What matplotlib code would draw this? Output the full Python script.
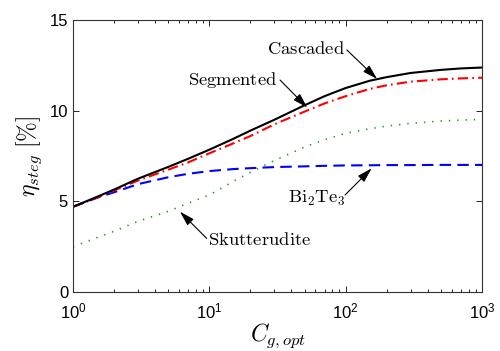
import matplotlib
matplotlib.use("Agg")
import matplotlib.pyplot as plt
import numpy as np

plt.rcParams["font.family"] = ["Liberation Sans", "DejaVu Sans"]

# values
c_opt = [1, 1.5, 2, 3, 5, 7, 10, 15, 20, 30, 50, 70, 100, 150, 200, 300, 500, 700, 1000]
cascaded = [4.7, 5.25, 5.65, 6.25, 6.9, 7.35, 7.85, 8.45, 8.9, 9.5, 10.3, 10.8, 11.25,
            11.65, 11.85, 12.08, 12.25, 12.33, 12.38]
segmented = [4.7, 5.2, 5.6, 6.15, 6.75, 7.15, 7.65, 8.2, 8.6, 9.25, 9.95, 10.4, 10.8,
             11.2, 11.4, 11.6, 11.73, 11.78, 11.82]
bi2te3 = [4.7, 5.2, 5.5, 5.95, 6.33, 6.52, 6.67, 6.78, 6.83, 6.89, 6.93, 6.96, 6.98,
          6.99, 7.0, 7.0, 7.01, 7.01, 7.01]
skutt = [2.5, 3.0, 3.35, 3.9, 4.45, 4.9, 5.35, 6.1, 6.6, 7.25, 8.0, 8.4, 8.75,
         9.0, 9.15, 9.3, 9.43, 9.48, 9.52]

fig = plt.figure(figsize=(5, 3.51), dpi=100)
ax = fig.add_axes([0.146, 0.168, 0.818, 0.775])

ax.plot(c_opt, skutt, color=(0.1, 0.6, 0.1), lw=1.2, linestyle=(0, (0.8, 4.2)))
ax.plot(c_opt, bi2te3, color="b", lw=1.5, linestyle=(0, (5.5, 3)))
ax.plot(c_opt, segmented, color="r", lw=1.5, linestyle=(0, (5, 2, 0.8, 2)))
ax.plot(c_opt, cascaded, color="k", lw=1.5)

ax.set_xscale("log")
ax.set_xlim(1, 1000)
ax.set_ylim(0, 15)
ax.set_yticks([0, 5, 10, 15])
ax.tick_params(which="both", direction="in", top=True, right=True, labelsize=12, width=0.6)
ax.tick_params(which="major", length=4)
ax.tick_params(which="minor", length=2)
ax.tick_params(axis="x", pad=7)
for s in ax.spines.values():
    s.set_linewidth(0.8)
    s.set_color("#333333")

ax.set_xlabel(r"$C_{g,opt}$", fontsize=17, math_fontfamily="cm", labelpad=0)
ax.set_ylabel(r"$\eta_{steg}\ \mathrm{[\%]}$", fontsize=17, math_fontfamily="cm", labelpad=4)

arrow = dict(arrowstyle="-|>,head_length=0.75,head_width=0.22", color="k", lw=0.8,
             mutation_scale=12, shrinkA=0, shrinkB=0)
labels = [
    (r"$\mathrm{Cascaded}$", (51.2, 13.13), (102, 13.35), (170, 11.75)),
    (r"$\mathrm{Segmented}$", (14.9, 11.42), (33, 11.69), (52.3, 10.17)),
    (r"$\mathrm{Bi}_2\mathrm{Te}_3$", (61.6, 4.9), (99, 5.35), (155, 6.82)),
    (r"$\mathrm{Skutterudite}$", (23.3, 2.59), (9.56, 2.96), (6.09, 4.43)),
]
for txt, pos, tail, tip in labels:
    ax.text(pos[0], pos[1], txt, ha="center", va="baseline", fontsize=13.4,
            math_fontfamily="cm")
    ax.annotate("", xy=tip, xytext=tail, arrowprops=arrow)

fig.savefig("out.png", dpi=100)
